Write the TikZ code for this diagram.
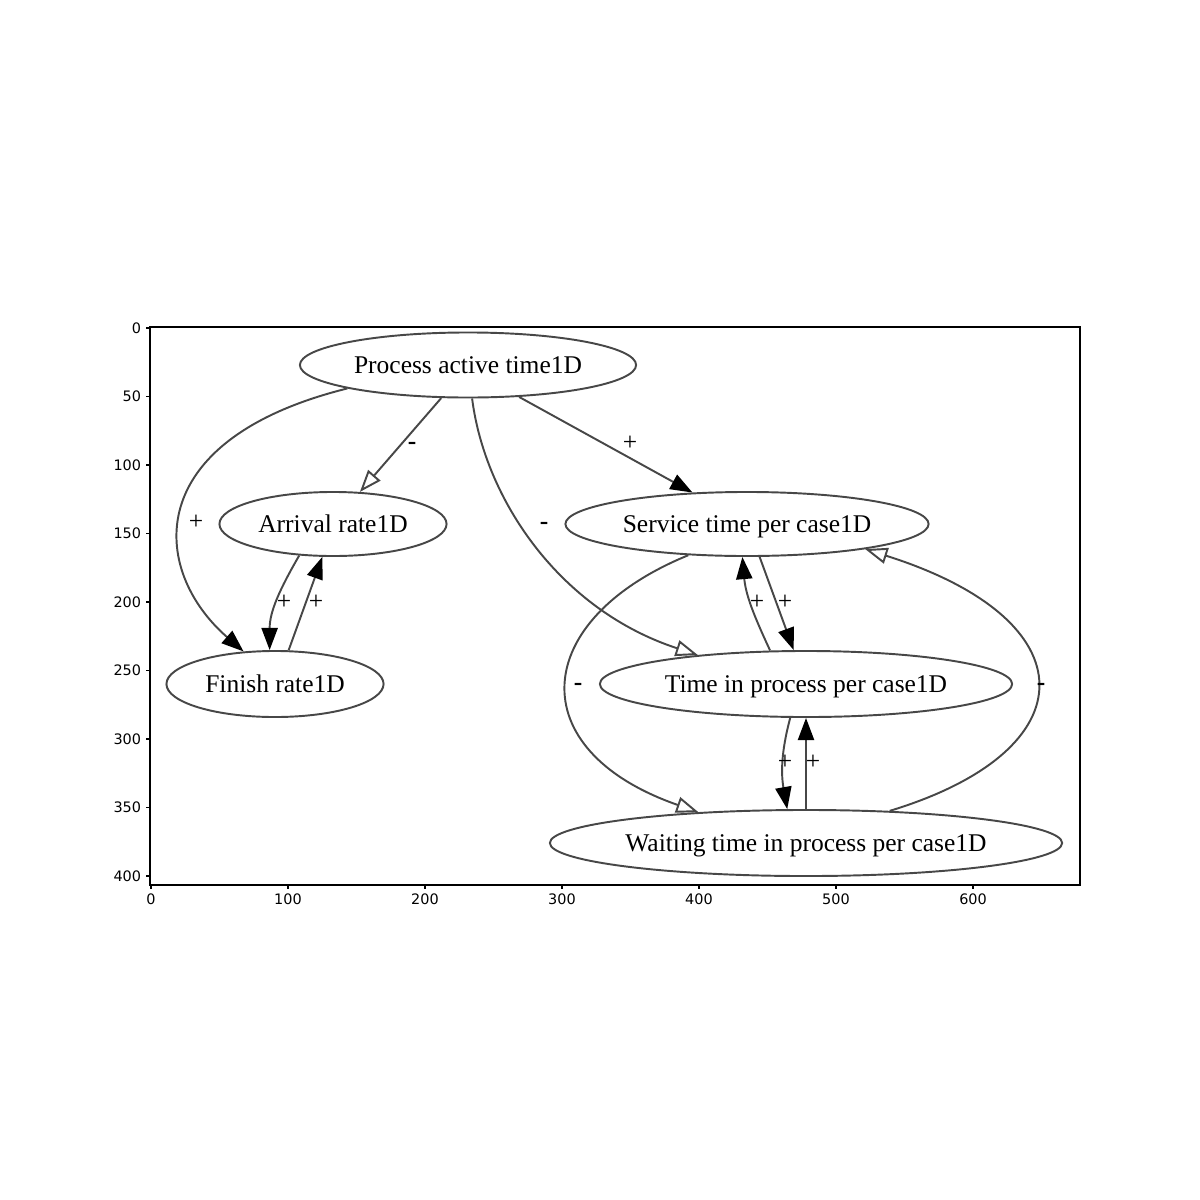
\documentclass[tikz,border=0pt]{standalone}
\usepackage{fontspec}
\setmainfont{Liberation Serif}
\newfontfamily\tickfont{DejaVu Sans}
\usepackage{tikz}
\usetikzlibrary{
  shapes.geometric,
  arrows.meta
}
\tikzset{
  var/.style={
    ellipse, draw=black!72, line width=0.55pt,
    inner sep=0pt, text height=6.4pt, text depth=1.6pt,
    font=\fontsize{7.25}{8}\selectfont
  },
  link/.style={-{Triangle[length=6.3pt, width=4.6pt, color=black]}, draw=black!72, line width=0.55pt},
  neglink/.style={-{Triangle[open, length=6.3pt, width=4.6pt]}, draw=black!72, line width=0.55pt},
  sgn/.style={font=\fontsize{7.25}{8}\selectfont, inner sep=0pt}
}

\begin{document}
\begin{tikzpicture}[
  x=0.01cm, y=0.01cm,
  axis/.style={black, line width=0.4pt},
  ticklbl/.style={font=\tickfont\fontsize{4.1}{5}\selectfont, inner sep=1.2pt},
]
\useasboundingbox (0,0) rectangle (1200,-1200);

% Ejes
\draw[axis] (150,-327) rectangle (1080,-885);
\foreach \v in {0,100,...,600}
  \draw[axis] ({151+1.37*\v},-885) -- ++(0,-4) node[ticklbl, below] (xt\v) {\v};
\foreach \v in {0,50,...,400}
  \draw[axis] (150,{-328-1.37*\v}) -- ++(-4,0) node[ticklbl, left] (yt\v) {\v};

% Variables
\node[var, minimum width=3.36cm, minimum height=0.65cm] (proc) at (468,-365) {Process active time1D};
\node[var, minimum width=2.27cm, minimum height=0.64cm] (arr) at (333,-524) {Arrival rate1D};
\node[var, minimum width=3.63cm, minimum height=0.64cm] (svc) at (747,-524) {Service time per case1D};
\node[var, minimum width=2.17cm, minimum height=0.66cm] (fin) at (275,-684) {Finish rate1D};
\node[var, minimum width=4.12cm, minimum height=0.66cm] (tip) at (806,-684) {Time in process per case1D};
\node[var, minimum width=5.12cm, minimum height=0.66cm] (wait) at (806,-843) {Waiting time in process per case1D};

% Enlaces
\draw[link] (proc.191) .. controls (140,-440) and (150,-570) .. (fin.134);
\draw[neglink] (proc.231) -- (arr.50);
\draw[neglink] (proc.277) .. controls (485,-500) and (560,-610) .. (tip.165);
\draw[link] (proc.328) -- (svc.150);
\draw[link] (arr.223) to[out=240, in=90] (fin.99);
\draw[link] (fin.68) -- (arr.252);
\draw[link] (svc.291) -- (tip.110);
\draw[link] (tip.137) to[out=115, in=275] (svc.262);
\draw[neglink] (svc.208) .. controls (530,-620) and (520,-750) .. (wait.164);
\draw[neglink] (wait.21) .. controls (1090,-750) and (1090,-620) .. (svc.348);
\draw[link] (tip.245) to[out=255, in=100] (wait.119);
\draw[link] (wait.90) -- (tip.270);

% Signos
\node[sgn] (s1) at (196,-522) {+};
\node[sgn] (s2) at (412,-446) {\bfseries -};
\node[sgn] (s3) at (544,-526) {\bfseries -};
\node[sgn] (s4) at (630,-443) {+};
\node[sgn] (s5) at (284,-602) {+};
\node[sgn] (s6) at (316,-602) {+};
\node[sgn] (s7) at (757,-602) {+};
\node[sgn] (s8) at (785,-602) {+};
\node[sgn] (s9) at (578,-687) {\bfseries -};
\node[sgn] (s10) at (1041,-687) {\bfseries -};
\node[sgn] (s11) at (785,-762) {+};
\node[sgn] (s12) at (813,-762) {+};

\end{tikzpicture}
\end{document}
